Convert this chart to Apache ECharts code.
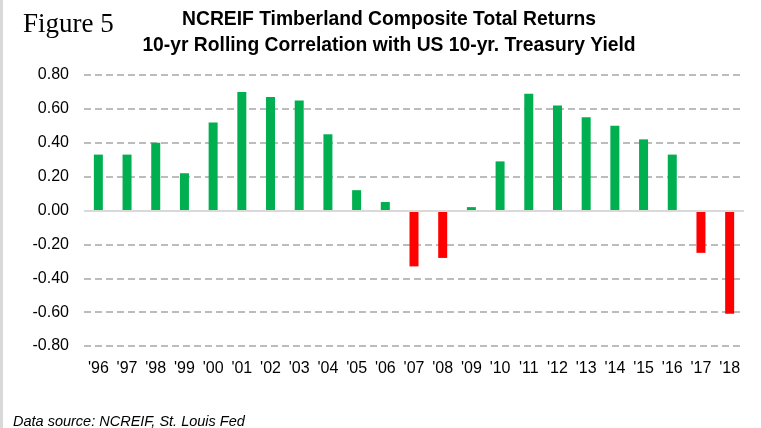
<!DOCTYPE html>
<html><head><meta charset="utf-8">
<script src="https://cdn.jsdelivr.net/npm/echarts@6/dist/echarts.min.js"></script>
<style>html,body{margin:0;padding:0;background:#fff}#c{width:761px;height:428px;border-left:3px solid #d9d9d9;box-sizing:border-box}</style>
</head><body><div id="c"></div>
<script>
const years = ["'96","'97","'98","'99","'00","'01","'02","'03","'04","'05","'06","'07","'08","'09","'10","'11","'12","'13","'14","'15","'16","'17","'18"];
const correlation = [0.33,0.33,0.40,0.22,0.52,0.70,0.67,0.65,0.45,0.12,0.05,-0.33,-0.28,0.02,0.29,0.69,0.62,0.55,0.50,0.42,0.33,-0.25,-0.61];
const SANS = "'Liberation Sans',Arial,sans-serif";
const chart = echarts.init(document.getElementById('c'));
chart.setOption({
  animation:false,
  title:[
    {text:'Figure 5',left:15,top:6,textStyle:{fontFamily:"'Liberation Serif',serif",fontSize:27,fontWeight:'normal',color:'#000'}},
    {text:'NCREIF Timberland Composite Total Returns\n10-yr Rolling Correlation with US 10-yr. Treasury Yield',left:381,textAlign:'center',top:2,
     textStyle:{fontFamily:SANS,fontSize:19.3,fontWeight:'bold',color:'#000',lineHeight:26}},
    {text:'Data source: NCREIF, St. Louis Fed',left:5,top:409,textStyle:{fontFamily:SANS,fontSize:14.5,fontStyle:'italic',fontWeight:'normal',color:'#000'}}
  ],
  grid:{left:81,right:17,top:75,bottom:82,containLabel:false},
  xAxis:{type:'category',data:years,axisLine:{show:false,onZero:false},axisTick:{show:false},
    axisLabel:{margin:15,fontFamily:SANS,fontSize:16,color:'#000',interval:0}},
  yAxis:{type:'value',min:-0.8,max:0.8,interval:0.2,
    axisLabel:{formatter:v=>v.toFixed(2),fontFamily:SANS,fontSize:16,color:'#000',margin:15},
    axisLine:{show:false},axisTick:{show:false},
    splitLine:{lineStyle:{type:[7,4],color:'#a6a6a6',width:1.5}}},
  series:[{type:'bar',data:correlation,barWidth:9,
    itemStyle:{color:p=>p.value<0?'#ff0000':'#00b050'},
    markLine:{silent:true,symbol:'none',label:{show:false},lineStyle:{type:'solid',color:'#d9d9d9',width:2},data:[{yAxis:0}]}
  }]
});
</script></body></html>
